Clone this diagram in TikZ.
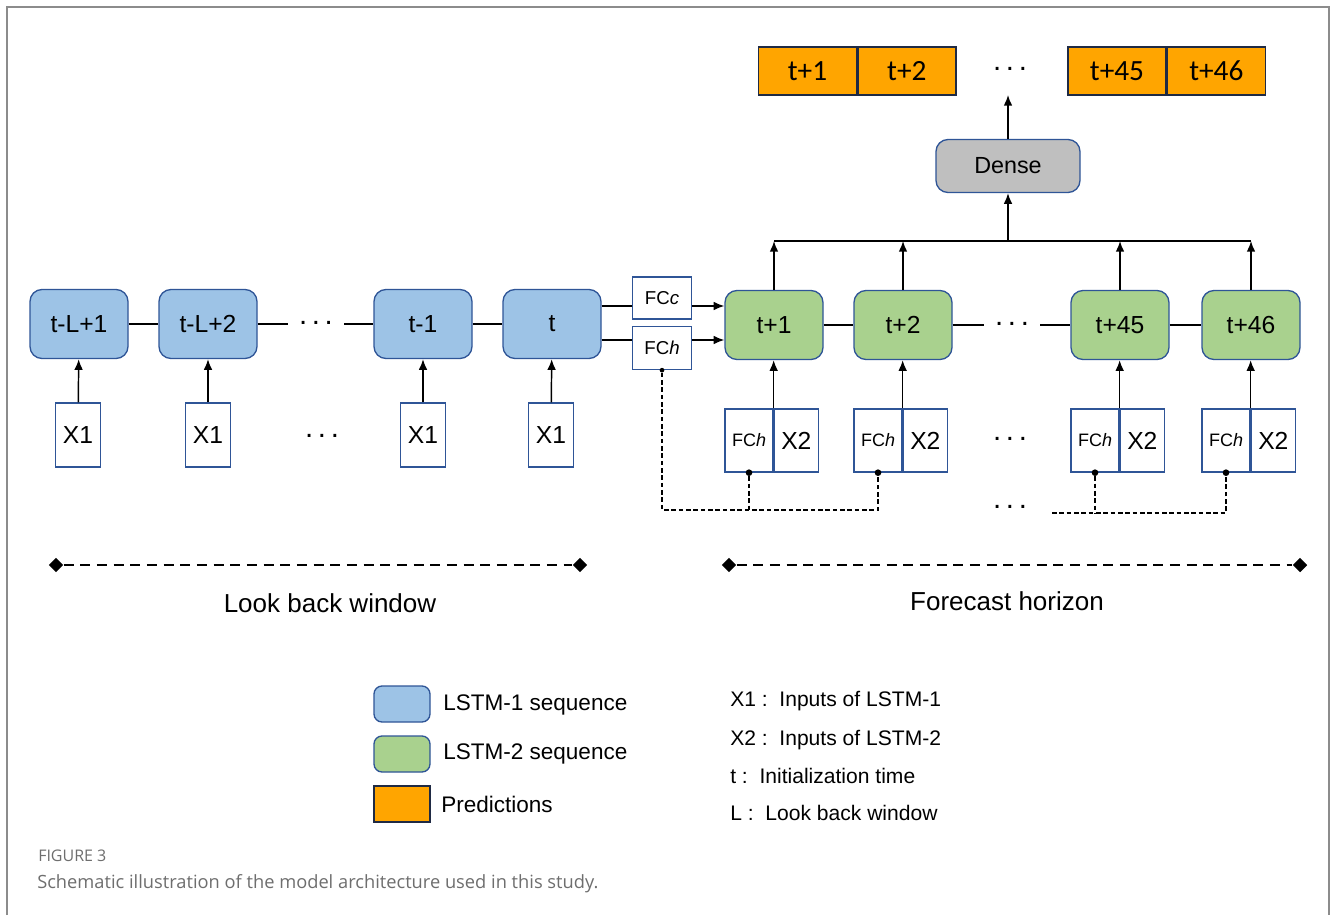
\documentclass[tikz,border=0pt]{standalone}
\usepackage{fontspec}
\setmainfont{Liberation Sans}
\newfontfamily\calib{Carlito}
\newfontfamily\capfont{Open Sans}
\usetikzlibrary{shapes.geometric,arrows.meta,calc}
\definecolor{lblue}{HTML}{9DC3E6}
\definecolor{lgreen}{HTML}{A9D18E}
\definecolor{lorange}{HTML}{FFA500}
\definecolor{bord}{HTML}{2F5597}
\definecolor{navy}{HTML}{1F2A44}
\definecolor{lgray}{HTML}{BFBFBF}
\definecolor{framec}{HTML}{8C8C8C}
\definecolor{captxt}{HTML}{6E6E6E}
\newcommand{\threedots}{\raisebox{0.2ex}{.}\kern3.5pt\raisebox{0.2ex}{.}\kern3.5pt\raisebox{0.2ex}{.}}
\begin{document}
\begin{tikzpicture}[x=0.75pt,y=-0.75pt,
 lstmone/.style={draw=bord, line width=1pt, fill=lblue, rounded corners=9pt, minimum width=73.5pt, minimum height=51.75pt, inner sep=0pt, font=\fontsize{18.5}{21}\selectfont},
 lstmtwo/.style={lstmone, fill=lgreen},
 xbox/.style={draw=bord, line width=1pt, fill=white, minimum width=33.75pt, minimum height=48pt, inner sep=0pt, font=\fontsize{18.5}{21}\selectfont},
 fcbox/.style={draw=bord, line width=1pt, fill=white, minimum width=44.25pt, minimum height=31.5pt, inner sep=0pt, font=\fontsize{14}{16}\selectfont},
 fccell/.style={draw=bord, line width=1pt, fill=white, minimum width=36pt, minimum height=47.25pt, inner sep=0pt, font=\fontsize{13.5}{15}\selectfont},
 x2cell/.style={fccell, minimum width=33pt, font=\fontsize{18.5}{21}\selectfont},
 predbox/.style={draw=navy, line width=1pt, fill=lorange, minimum width=73.5pt, minimum height=36pt, inner sep=0pt, font=\calib\fontsize{22}{26}\selectfont},
 densebox/.style={draw=bord, line width=1pt, fill=lgray, rounded corners=9pt, minimum width=108pt, minimum height=39.75pt, inner sep=0pt, font=\fontsize{17.5}{20}\selectfont},
 link/.style={line width=1.1pt, black},
 arr/.style={link, -{Latex[length=8pt,width=6.5pt]}},
 dotsnode/.style={font=\fontsize{22}{24}\selectfont, inner sep=0pt, minimum width=42pt},
 fdash/.style={line width=1pt, dash pattern=on 3.5pt off 2pt},
 wdash/.style={line width=1.4pt, dash pattern=on 7.5pt off 5pt},
 endmark/.style={diamond, fill=black, minimum size=11pt, inner sep=0pt},
 dotmark/.style={circle, fill=black, minimum size=5pt, inner sep=0pt},
 legbox/.style={draw=bord, line width=1pt, rounded corners=6pt, minimum width=42pt, minimum height=27pt, inner sep=0pt},
 legtext/.style={anchor=west, inner sep=0pt, font=\fontsize{16.9}{19}\selectfont},
 keytext/.style={anchor=west, inner sep=0pt, font=\fontsize{15.8}{19}\selectfont},
 bigtext/.style={inner sep=0pt, font=\fontsize{19.5}{23}\selectfont}
]
\useasboundingbox (0,0) rectangle (1331,915);
\fill[white] (0,0) rectangle (1331,915);
\draw[framec, line width=1.5pt] (7,915) -- (7,7) -- (1329,7) -- (1329,915);

% LSTM-1 chain
\node[lstmone] (b1) at (79,324) {t-L+1};
\node[lstmone] (b2) at (208,324) {t-L+2};
\node[dotsnode] (bd) at (316,324) {\threedots};
\node[lstmone] (b3) at (423,324) {t-1};
\node[lstmone] (b4) at (552,324) {t};
\draw[link] (b1) -- (b2);
\draw[link] (b2) -- (bd);
\draw[link] (bd) -- (b3);
\draw[link] (b3) -- (b4);

\node[xbox] (x1a) at (78,435) {X1};
\node[xbox] (x1b) at (208,435) {X1};
\node[dotsnode] (xd) at (322,437) {\threedots};
\node[xbox] (x1c) at (423,435) {X1};
\node[xbox] (x1d) at (551,435) {X1};
\draw[arr] (x1a) -- (b1);
\draw[arr] (x1b) -- (b2);
\draw[arr] (x1c) -- (b3);
\draw[arr] (x1d) -- (b4);

% FC boxes
\node[fcbox] (fcc) at (662,298) {FC\textit{c}};
\node[fcbox, minimum height=32.25pt] (fch) at (662,348) {FC\textit{h}};
\draw[link] (b4.east |- 0,306) -- (fcc.west |- 0,306);
\draw[link] (b4.east |- 0,340) -- (fch.west |- 0,340);

% LSTM-2 chain
\node[lstmtwo] (g1) at (774,325) {t+1};
\node[lstmtwo] (g2) at (903,325) {t+2};
\node[dotsnode] (gd) at (1012,325) {\threedots};
\node[lstmtwo] (g3) at (1120,325) {t+45};
\node[lstmtwo] (g4) at (1251,325) {t+46};
\draw[arr] (fcc.east |- 0,306) -- (g1.west |- 0,306);
\draw[arr] (fch.east |- 0,340) -- (g1.west |- 0,340);
\draw[link] (g1) -- (g2);
\draw[link] (g2) -- (gd);
\draw[link] (gd) -- (g3);
\draw[link] (g3) -- (g4);

% input pairs
\foreach \n/\gx in {1/774,2/903,3/1120,4/1251}{
  \node[fccell] (hc\n) at ({\gx-25},440.5) {FC\textit{h}};
  \node[x2cell, anchor=west] (xc\n) at (hc\n.east) {X2};
  \draw[arr] (hc\n.north east) -- (hc\n.north east |- g\n.south);
  \node[dotmark] (hd\n) at (hc\n.south) {};
}
\node[dotsnode] (pd) at (1010,440) {\threedots};

% dashed feedback lines
\node[dotmark, minimum size=3.5pt] (fhd) at (fch.south) {};
\draw[fdash] (fhd) -- (fhd |- 0,510) -| (hd2);
\draw[fdash] (hd1) -- (hd1 |- 0,510);
\node[dotsnode] (fd) at (1010,508) {\threedots};
\coordinate (ds) at (1052,513);
\draw[fdash] (ds) -| (hd4);
\draw[fdash] (hd3) -- (hd3 |- ds);

% top part
\coordinate (hl) at (1008,241);
\draw[link] (g1.north |- hl) -- (g4.north |- hl);
\foreach \n in {1,2,3,4}{ \draw[arr] (g\n.north) -- (g\n.north |- hl); }
\node[densebox] (dense) at (1008,166) {Dense};
\draw[arr] (hl) -- (dense.south);

\node[predbox] (p1) at (807.5,71) {t+1};
\node[predbox, anchor=west] (p2) at (p1.east) {t+2};
\node[dotsnode] (prd) at (1010,70) {\threedots};
\node[predbox] (p3) at (1117,71) {t+45};
\node[predbox, anchor=west] (p4) at (p3.east) {t+46};
\coordinate (pb) at (1008,95);
\draw[arr] (dense.north) -- (pb);

% windows
\node[endmark] (lw1) at (56,565) {};
\node[endmark] (lw2) at (580,565) {};
\draw[wdash] (lw1) -- (lw2);
\node[endmark] (fw1) at (729,565) {};
\node[endmark] (fw2) at (1300,565) {};
\draw[wdash] (fw1) -- (fw2);
\node[bigtext] (lbl1) at (330,603) {Look back window};
\node[bigtext] (lbl2) at (1007,601) {Forecast horizon};

% legend
\node[legbox, fill=lblue] (lg1) at (402,704) {};
\node[legbox, fill=lgreen] (lg2) at (402,754) {};
\node[legbox, fill=lorange, draw=navy, rounded corners=0pt] (lg3) at (402,804) {};
\node[legtext] (lt1) at (443,705) {LSTM-1 sequence};
\node[legtext] (lt2) at (443,754) {LSTM-2 sequence};
\node[legtext] (lt3) at (441,804) {Predictions};
\node[keytext] (k1) at (730,701) {X1 :\ \ Inputs of LSTM-1};
\node[keytext] (k2) at (730,740) {X2 :\ \ Inputs of LSTM-2};
\node[keytext] (k3) at (730,776) {t :\ \ Initialization time};
\node[keytext] (k4) at (730,813) {L :\ \ Look back window};

% caption
\node[anchor=west, inner sep=0pt, text=captxt, font=\capfont\fontsize{12}{14}\selectfont] (cap1) at (38,856) {FIGURE 3};
\node[anchor=west, inner sep=0pt, text=captxt, font=\capfont\fontsize{13.7}{16}\selectfont] (cap2) at (37,884) {Schematic illustration of the model architecture used in this study.};
\end{tikzpicture}
\end{document}
